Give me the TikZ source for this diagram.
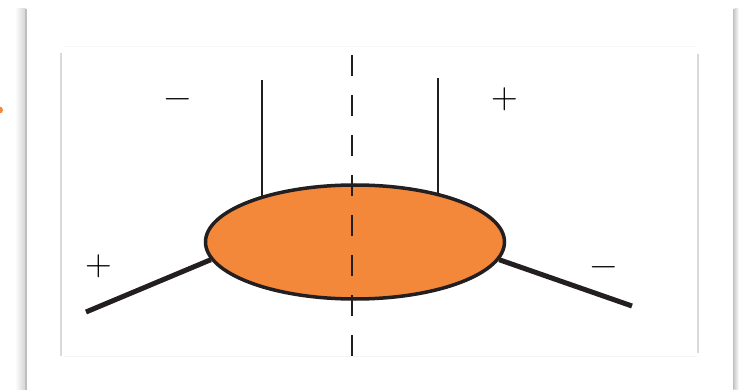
\documentclass[tikz,border=0pt]{standalone}
\usetikzlibrary{shapes.geometric,backgrounds}
\definecolor{blobfill}{RGB}{243,135,58}
\definecolor{ink}{RGB}{35,31,32}
\tikzset{
  blob/.style={ellipse, draw=ink, fill=blobfill, line width=3.5pt,
    minimum width=299pt, minimum height=114pt, inner sep=0pt},
  leg/.style={ink, line width=2pt},
  extleg/.style={ink, line width=5pt},
  cut/.style={ink, line width=2.5pt, dash pattern=on 21pt off 19pt},
  sign/.style={inner sep=0pt, font=\fontsize{37}{40}\selectfont},
}
\begin{document}
\begin{tikzpicture}[x=1pt,y=-1pt]
  \useasboundingbox (0,0) rectangle (739,390);

  % page frame
  \shade[left color=white, right color=gray!35] (15,9) rectangle (25.5,390);
  \draw[gray!50, line width=1.5pt] (26,9) -- (26,390);
  \shade[left color=gray!35, right color=white] (734.5,9) rectangle (739,390);
  \draw[gray!50, line width=1.5pt] (733.5,9) -- (733.5,390);
  \fill[blobfill] (-0.5,110) circle (3.5);

  % panel
  \draw[gray!6, line width=1pt] (63,47) -- (697,47);
  \draw[gray!8, line width=1pt] (63,356) -- (697,356);
  \draw[gray!30, line width=1.5pt] (61,53) -- (61,356);
  \draw[gray!30, line width=1.5pt] (698,54) -- (698,353);

  \coordinate (legL) at (262,80);
  \coordinate (legR) at (438,78);
  \coordinate (extL) at (86,312);
  \coordinate (extR) at (632,306);
  \coordinate (cutTop) at (352,55);
  \coordinate (cutBot) at (352,356);

  \node[blob] (core) at (355,242) {};
  \begin{scope}[on background layer]
    \draw[leg] (legL) -- (legL |- core.center);
    \draw[leg] (legR) -- (legR |- core.center);
    \draw[extleg] (extL) -- (core.187);
    \draw[extleg] (extR) -- (core.353);
  \end{scope}
  \draw[cut] (cutTop) -- (cutBot);

  \node[sign] (signTL) at (178,104) {−};
  \node[sign] (signTR) at (505,99) {+};
  \node[sign] (signBL) at (99,266) {+};
  \node[sign] (signBR) at (604,272) {−};
\end{tikzpicture}
\end{document}
